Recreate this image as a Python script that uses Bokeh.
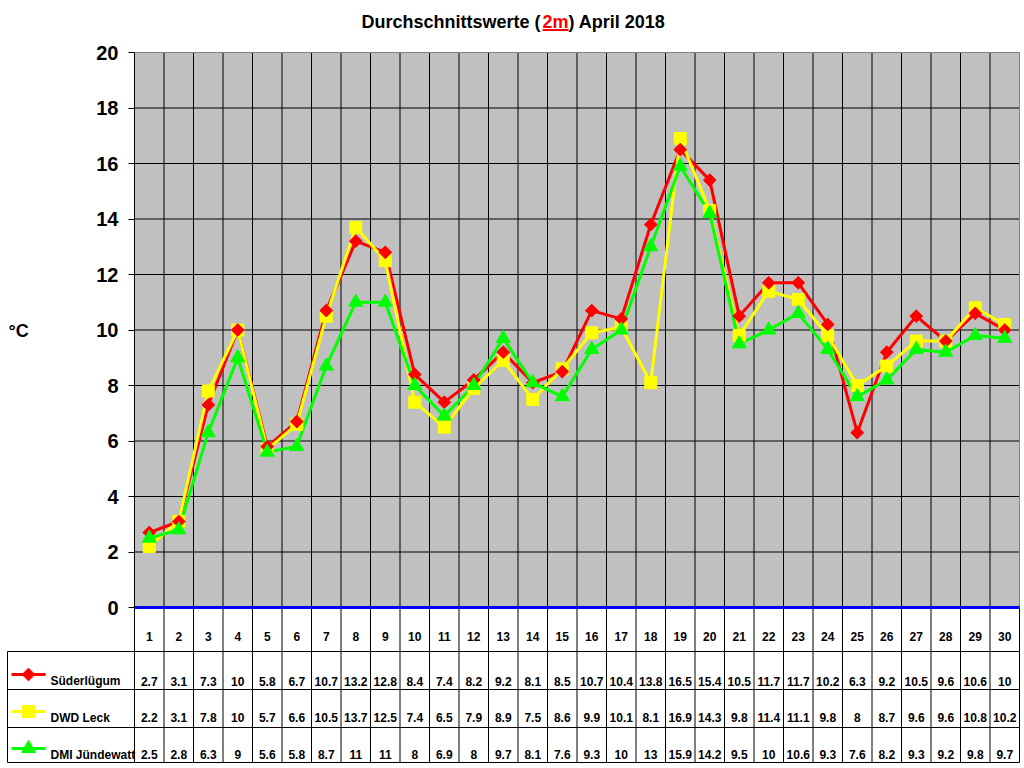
import numpy as np
from bokeh.plotting import figure
from bokeh.models import Range1d, FixedTicker, LinearAxis
from bokeh.embed import file_html
from bokeh.resources import INLINE
from bokeh.core.properties import value

# ---------------- data ----------------
days = list(range(1, 31))
suederluegum = [2.7, 3.1, 7.3, 10, 5.8, 6.7, 10.7, 13.2, 12.8, 8.4, 7.4, 8.2, 9.2, 8.1, 8.5,
                10.7, 10.4, 13.8, 16.5, 15.4, 10.5, 11.7, 11.7, 10.2, 6.3, 9.2, 10.5, 9.6, 10.6, 10]
dwd_leck = [2.2, 3.1, 7.8, 10, 5.7, 6.6, 10.5, 13.7, 12.5, 7.4, 6.5, 7.9, 8.9, 7.5, 8.6,
            9.9, 10.1, 8.1, 16.9, 14.3, 9.8, 11.4, 11.1, 9.8, 8, 8.7, 9.6, 9.6, 10.8, 10.2]
dmi_juendewatt = [2.5, 2.8, 6.3, 9, 5.6, 5.8, 8.7, 11, 11, 8, 6.9, 8, 9.7, 8.1, 7.6,
                  9.3, 10, 13, 15.9, 14.2, 9.5, 10, 10.6, 9.3, 7.6, 8.2, 9.3, 9.2, 9.8, 9.7]
series_names = ["Süderlügum", "DWD Leck", "DMI Jündewatt"]
y_ticks = [0, 2, 4, 6, 8, 10, 12, 14, 16, 18, 20]
title_parts = ["Durchschnittswerte (", "2m", ") April 2018"]
y_unit = "°C"

# ---------------- layout / style ----------------
FONT = "Liberation Sans"
RED, YELLOW, GREEN, BLUE = "#FF0000", "#FFFF00", "#00FF00", "#0000FF"
GRAY_BG, GRAY_EDGE = "#C0C0C0", "#808080"
W, H = 1022, 766
PX0, PY0 = 0, 0                  # page offset of the canvas
PLOT_L, PLOT_R = 134, 1019       # page x of the plot area
PLOT_T, PLOT_B = 52, 607         # page y of 20 and 0
ndays = len(days)
ppd = (PLOT_R - PLOT_L) / ndays
ppu = (PLOT_B - PLOT_T) / (y_ticks[-1] - y_ticks[0])

def dx(px):
    return 0.5 + (px - PLOT_L) / ppd

def dy(py):
    return (PLOT_B - py) / ppu

x0, x1 = 0.5, ndays + 0.5
y0, y1 = y_ticks[0], y_ticks[-1]

p = figure(width=W, height=H, title=None,
           x_range=Range1d(dx(PX0), dx(PX0 + W)), y_range=Range1d(dy(PY0 + H), dy(PY0)),
           x_axis_location=None, y_axis_location=None, output_backend="svg",
           toolbar_location=None, min_border=0, outline_line_color=None,
           background_fill_color="white", border_fill_color="white")
p.grid.visible = False

# plot area background
p.quad(left=[x0], right=[x1], bottom=[y0], top=[y1], fill_color=GRAY_BG, line_color=None)

# vertical day boundaries (through chart and table)
inner = [d + 0.5 for d in days[:-1]]
TABLE_HDR, ROW1, ROW2, TABLE_B = 651, 689, 727, 762
p.segment(x0=inner, x1=inner, y0=[dy(TABLE_B)] * len(inner), y1=[y1] * len(inner),
          line_color="black", line_width=1)
p.segment(x0=[x0, x1], x1=[x0, x1], y0=[dy(TABLE_B)] * 2, y1=[y0] * 2,
          line_color="black", line_width=1)
# horizontal grid
hg = y_ticks[1:-1]
p.segment(x0=[x0] * len(hg), x1=[x1] * len(hg), y0=hg, y1=hg, line_color="black", line_width=1)
# plot area outline (top/right gray)
p.segment(x0=[x0, x1], x1=[x1, x1], y0=[y1, y0], y1=[y1, y1], line_color=GRAY_EDGE, line_width=1)

# table lines
row_lines = [TABLE_HDR, ROW1, ROW2, TABLE_B]
p.segment(x0=[dx(7)] * 4, x1=[x1] * 4, y0=[dy(v) for v in row_lines],
          y1=[dy(v) for v in row_lines], line_color="black", line_width=1)
p.segment(x0=[dx(7)], x1=[dx(7)], y0=[dy(TABLE_HDR)], y1=[dy(TABLE_B)],
          line_color="black", line_width=1)

# zero line
p.segment(x0=[x0], x1=[x1], y0=[0], y1=[0], line_color=BLUE, line_width=3)

# y axis
yax = LinearAxis(fixed_location=x0, bounds=(y0, y1), ticker=FixedTicker(ticks=y_ticks))
yax.major_label_text_font = FONT
yax.major_label_text_font_size = "20px"
yax.major_label_text_font_style = "bold"
yax.major_label_text_color = "black"
yax.major_tick_out = 6
yax.major_tick_in = 0
yax.minor_tick_out = 0
yax.minor_tick_in = 0
yax.axis_line_color = "black"
yax.major_tick_line_color = "black"
yax.major_label_standoff = 10
p.add_layout(yax, "left")

# series
p.line(days, suederluegum, line_color=RED, line_width=3)
p.line(days, dwd_leck, line_color=YELLOW, line_width=3)
p.line(days, dmi_juendewatt, line_color=GREEN, line_width=3)
p.scatter(days, dwd_leck, marker="square", size=12, fill_color=YELLOW, line_color=YELLOW)
p.scatter(days, suederluegum, marker="square", angle=np.pi / 4, size=9, fill_color=RED, line_color=RED)
p.scatter(days, dmi_juendewatt, marker="triangle", size=14, fill_color=GREEN, line_color=GREEN)

# title
tstyle = dict(text_baseline="middle", text_font=value(FONT), text_font_size="18px",
              text_font_style="bold")
TITLE_Y = 21
p.text(x=[dx(540)], y=[dy(TITLE_Y)], text=[title_parts[0]], text_align="right", text_color="black", **tstyle)
p.text(x=[dx(542)], y=[dy(TITLE_Y)], text=[title_parts[1]], text_align="left", text_color=RED, **tstyle)
p.text(x=[dx(568)], y=[dy(TITLE_Y)], text=[title_parts[2]], text_align="left", text_color="black", **tstyle)
p.segment(x0=[dx(542)], x1=[dx(568)], y0=[dy(29.5)], y1=[dy(29.5)], line_color=RED, line_width=2)

# unit label
p.text(x=[dx(8)], y=[dy(330)], text=[y_unit], text_align="left", text_baseline="middle",
       text_font=value(FONT), text_font_size="18px", text_font_style="bold", text_color="black")

# table contents
cstyle = dict(text_baseline="middle", text_font=value(FONT), text_font_size="12px",
              text_font_style="bold", text_color="black")
p.text(x=days, y=[dy(635.5)] * ndays, text=[str(d) for d in days], text_align="center", **cstyle)

rows = [suederluegum, dwd_leck, dmi_juendewatt]
centers = [680.5, 717, 754]
key_y = [674, 711, 748]
colors = [RED, YELLOW, GREEN]
markers = [("square", np.pi / 4, 9), ("square", 0, 12), ("triangle", 0, 14)]
for vals, name, cy, ky, col, (mk, ang, sz) in zip(rows, series_names, centers, key_y, colors, markers):
    p.text(x=days, y=[dy(cy)] * ndays, text=[f"{v:g}" for v in vals], text_align="center", **cstyle)
    p.text(x=[dx(50)], y=[dy(cy)], text=[name], text_align="left", **cstyle)
    p.line(x=[dx(11), dx(45)], y=[dy(ky), dy(ky)], line_color=col, line_width=3)
    p.scatter(x=[dx(28)], y=[dy(ky)], marker=mk, angle=ang, size=sz, fill_color=col, line_color=col)

open("out.html", "w").write(file_html(p, INLINE))
